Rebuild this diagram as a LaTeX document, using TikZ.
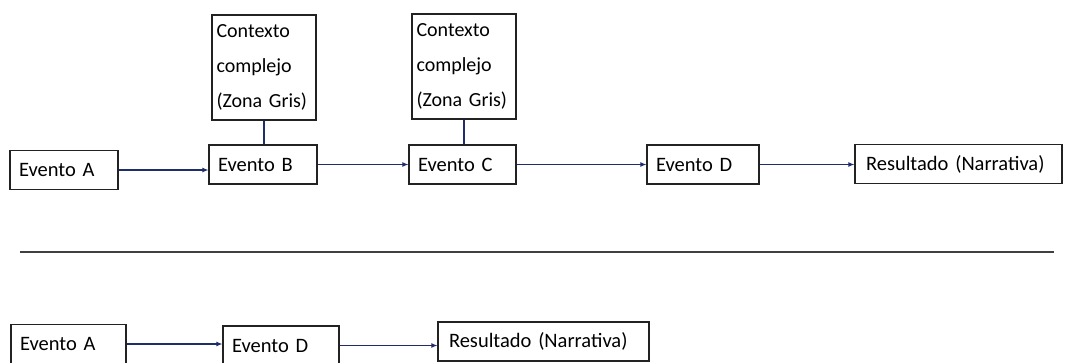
\documentclass[tikz,border=0pt]{standalone}
\usepackage{fontspec}
\setmainfont{Carlito}
\usetikzlibrary{arrows.meta}

\definecolor{linkblue}{HTML}{1F2E6B}
\definecolor{boxline}{HTML}{222222}

\tikzset{
  evento/.style={draw=boxline, line width=1.2pt, rectangle, minimum height=39pt,
    inner xsep=9pt, align=left, font=\fontsize{20.5}{24}\selectfont},
  contexto/.style={evento, line width=1.8pt, minimum height=105pt, text width=95pt,
    inner xsep=4.5pt, font=\fontsize{20}{35}\selectfont},
  link/.style={draw=linkblue, line width=1.1pt},
}

\begin{document}
\begin{tikzpicture}[x=1pt, y=-1pt, >={Latex[length=6pt,width=5pt]}]
    \useasboundingbox (0,0) rectangle (1078,362);

    % cadena completa
    \node[evento, text width=90pt]  (a1) at (64,170)    {Evento A};
    \node[evento, text width=90pt]  (b1) at (263,164.5) {Evento B};
    \node[contexto]                 (k1) at (264,67.5)  {Contexto\\complejo\\(Zona Gris)};
    \node[evento, text width=89pt]  (c1) at (462.5,164.5) {Evento C};
    \node[contexto]                 (k2) at (464,66.5)  {Contexto\\complejo\\(Zona Gris)};
    \node[evento, text width=94pt]  (d1) at (703,164.5) {Evento D};
    \node[evento, text width=185pt, inner xsep=11pt] (r1) at (958.5,164) {Resultado (Narrativa)};

    \draw[link, ->] (a1.east) -- (a1.east -| b1.west);
    \draw[link, ->] (b1.east) -- (b1.east -| c1.west);
    \draw[link, ->] (c1.east) -- (c1.east -| d1.west);
    \draw[link, ->] (d1.east) -- (d1.east -| r1.west);
    \draw[link] (k1.south) -- (k1.south |- b1.north);
    \draw[link] (k2.south) -- (k2.south |- c1.north);

    % separador
    \coordinate (s0) at (20,252);
    \coordinate (s1) at (1054,252);
    \draw[line width=1.6pt, color=black!75] (s0) -- (s1);

    % cadena reducida
    % \node[evento] (b2) ... sin eventos B y C
    \node[evento, text width=97pt]  (a2) at (68.5,344)  {Evento A};
    \node[evento, text width=98pt]  (d2) at (281,345.5) {Evento D};
    \node[evento, text width=189pt, inner xsep=11pt] (r2) at (543.5,341.5) {Resultado (Narrativa)};

    \draw[link, ->] (a2.east) -- (a2.east -| d2.west);
    \draw[link, ->] (d2.east) -- (d2.east -| r2.west);
\end{tikzpicture}
\end{document}
